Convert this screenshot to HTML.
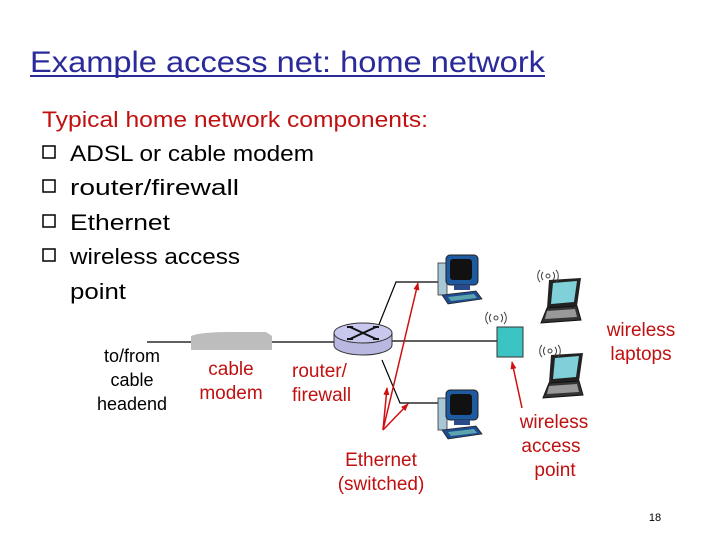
<!DOCTYPE html>
<html><head><style>
html,body{margin:0;padding:0;background:#fff;}
svg{display:block;}
text{font-family:"Liberation Sans",sans-serif;}
</style></head><body>
<svg width="720" height="540" viewBox="0 0 720 540" xmlns="http://www.w3.org/2000/svg">
<defs>
<marker id="ar" markerWidth="8" markerHeight="8" refX="7" refY="4" orient="auto" markerUnits="userSpaceOnUse"><path d="M0,1 L8,4 L0,7 z" fill="#d01010"/></marker>
<g id="pc">
<rect x="0" y="8" width="9" height="32" fill="#a8c8d8" stroke="#333" stroke-width="0.8"/>
<rect x="8" y="0" width="32" height="30" rx="4" fill="#1e5aa0" stroke="#222"/>
<rect x="12" y="4" width="22" height="21" rx="3" fill="#111"/>
<rect x="16" y="30" width="16" height="5" fill="#2a4a8a"/>
<path d="M4,40 L38,36 L44,44 L10,49 z" fill="#1e4a90" stroke="#222" stroke-width="0.8"/>
<path d="M10,42 L36,39 L39,43 L13,46 z" fill="#9fc" opacity="0.5"/>
</g>
<g id="lap">
<path d="M14,12 L46,10 L42,38 L12,40 z" fill="#222"/>
<path d="M18,15 L42,13 L39,34 L16,36 z" fill="#7fd0d8"/>
<path d="M12,40 L42,38 L46,52 L6,55 z" fill="#333" stroke="#111"/>
<path d="M12,43 L40,41 L42,49 L10,51 z" fill="#999"/>
<g fill="none" stroke="#444" stroke-width="1">
<path d="M8,4 a6,6 0 0 0 0,8"/><path d="M5,2 a9,9 0 0 0 0,12"/>
<path d="M18,4 a6,6 0 0 1 0,8"/><path d="M21,2 a9,9 0 0 1 0,12"/>
<circle cx="13" cy="8" r="2"/>
</g>
</g>
</defs>

<text x="30" y="72" font-size="30" fill="#2a2a9a" textLength="515" lengthAdjust="spacingAndGlyphs">Example access net: home network</text>
<line x1="30" y1="76" x2="545" y2="76" stroke="#2a2a9a" stroke-width="2"/>

<g font-size="22">
<text x="42" y="127" fill="#c01010" textLength="386" lengthAdjust="spacingAndGlyphs">Typical home network components:</text>
<text x="70" y="161" fill="#000" textLength="244" lengthAdjust="spacingAndGlyphs">ADSL or cable modem</text>
<text x="70" y="195" fill="#000" textLength="169" lengthAdjust="spacingAndGlyphs">router/firewall</text>
<text x="70" y="230" fill="#000" textLength="100" lengthAdjust="spacingAndGlyphs">Ethernet</text>
<text x="70" y="264" fill="#000" textLength="170" lengthAdjust="spacingAndGlyphs">wireless access</text>
<text x="70" y="299" fill="#000" textLength="56" lengthAdjust="spacingAndGlyphs">point</text>
</g>
<g fill="none" stroke="#000" stroke-width="1.5">
<rect x="43" y="146" width="12" height="12"/>
<rect x="43" y="180" width="12" height="12"/>
<rect x="43" y="215" width="12" height="12"/>
<rect x="43" y="249" width="12" height="12"/>
</g>

<g font-size="18" text-anchor="middle" fill="#000">
<text x="132" y="362">to/from</text>
<text x="132" y="386">cable</text>
<text x="132" y="410">headend</text>
</g>

<g stroke="#000" stroke-width="1.2" fill="none">
<line x1="147" y1="342" x2="340" y2="342"/>
<polyline points="378,327 396,282 438,282"/>
<line x1="390" y1="341" x2="497" y2="341"/>
<polyline points="382,360 400,403 440,403"/>
</g>

<path d="M191,350 L191,336 Q200,332 230,332 L266,332 L272,336 L272,350 z" fill="#bdbdbd"/>

<path d="M334,333 L334,345 A29,10 0 0 0 392,345 L392,333 z" fill="#b8b8e0" stroke="#333" stroke-width="1"/>
<ellipse cx="363" cy="333" rx="29" ry="10" fill="#c8c8ee" stroke="#333" stroke-width="1"/>
<path d="M350,327 Q363,333 376,339 M350,339 Q363,333 376,327 M347,327 h6 M373,339 h6 M347,339 h6 M373,327 h6" stroke="#111" stroke-width="2" fill="none"/>

<use href="#pc" x="438" y="255"/>
<use href="#pc" x="438" y="390"/>

<rect x="497" y="327" width="26" height="30" fill="#3cc4c4" stroke="#333"/>
<g fill="none" stroke="#444" stroke-width="1" transform="translate(483,310)">
<path d="M8,4 a6,6 0 0 0 0,8"/><path d="M5,2 a9,9 0 0 0 0,12"/>
<path d="M18,4 a6,6 0 0 1 0,8"/><path d="M21,2 a9,9 0 0 1 0,12"/>
<circle cx="13" cy="8" r="2"/>
</g>

<use href="#lap" x="535" y="268"/>
<use href="#lap" x="537" y="343"/>

<g stroke="#d01010" stroke-width="1.5" fill="none">
<line x1="383" y1="430" x2="418" y2="283" marker-end="url(#ar)"/>
<line x1="383" y1="430" x2="387" y2="388" marker-end="url(#ar)"/>
<line x1="383" y1="430" x2="408" y2="404" marker-end="url(#ar)"/>
<line x1="522" y1="408" x2="512" y2="362" marker-end="url(#ar)"/>
</g>

<g font-size="19" fill="#c01010">
<text x="231" y="375" text-anchor="middle">cable</text>
<text x="231" y="399" text-anchor="middle">modem</text>
<text x="292" y="377">router/</text>
<text x="292" y="401">firewall</text>
<text x="381" y="466" text-anchor="middle">Ethernet</text>
<text x="381" y="490" text-anchor="middle">(switched)</text>
<text x="554" y="428" text-anchor="middle">wireless</text>
<text x="551" y="452" text-anchor="middle">access</text>
<text x="555" y="476" text-anchor="middle">point</text>
<text x="641" y="336" text-anchor="middle">wireless</text>
<text x="641" y="360" text-anchor="middle">laptops</text>
</g>

<text x="655" y="521" font-size="11" text-anchor="middle" fill="#000">18</text>
</svg>
</body></html>
